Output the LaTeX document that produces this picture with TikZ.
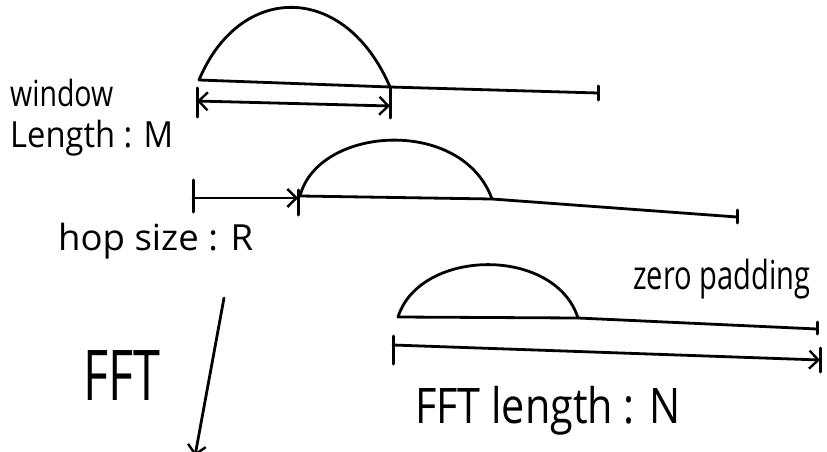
\documentclass[tikz,border=0pt]{standalone}
\usepackage{fontspec}
\setmainfont{Open Sans}
\usetikzlibrary{arrows.meta}
\newcommand\handtxt[3]{\resizebox{#1}{\height}{\fontsize{#2}{#2}\selectfont #3}}
\begin{document}
\begin{tikzpicture}[x=1pt,y=-1pt,
  pen/.style={line width=2.8pt, line cap=round, line join=round},
  tickmark/.style={line width=3pt, line cap=round},
  barb/.style={pen,-{Straight Barb[length=9pt,width=18pt,line width=2.4pt]}},
  dblbarb/.style={pen,{Straight Barb[length=9pt,width=18pt,line width=2.4pt]}-{Straight Barb[length=9pt,width=18pt,line width=2.4pt]}},
  lbl/.style={inner sep=0pt, anchor=base west}]
\useasboundingbox (0,0) rectangle (827,452);

% ---- first window ----
\coordinate (w1a) at (199,80);
\coordinate (w1b) at (390,87);
\coordinate (w1e) at (598,93);
\draw[pen] (w1a) .. controls (240,-18) and (345,-18) .. (w1b);
\draw[pen] (w1a) -- (w1b) -- (w1e);
\draw[tickmark] (598,86) -- (598,100);

% window length arrow
\coordinate (m1) at (197,101);
\coordinate (m2) at (390,106);
\draw[tickmark] (197,88) -- (197,117);
\draw[tickmark] (390,88) -- (390,118);
\draw[dblbarb] (m1) -- (m2);

\node[lbl] (twin) at (10,106) {\handtxt{103pt}{36}{window}};
\node[lbl] (tlen) at (10,147) {\handtxt{163pt}{36}{Length : M}};

% ---- second window ----
\coordinate (w2a) at (300,196);
\coordinate (w2b) at (492,199);
\coordinate (w2e) at (737,217);
\draw[pen] (w2a) .. controls (318,126) and (462,116) .. (w2b);
\draw[pen] (w2a) -- (w2b) -- (w2e);
\draw[tickmark] (737,210) -- (737,223);

% hop arrow
\coordinate (h1) at (193,198);
\coordinate (h2) at (298,198);
\draw[tickmark] (193,180) -- (193,212);
\draw[tickmark] (298,190) -- (298,215);
\draw[barb] (h1) -- (h2);

\node[lbl] (thop) at (58,250) {\handtxt{195pt}{36}{hop size : R}};

% ---- third window ----
\coordinate (w3a) at (398,317);
\coordinate (w3b) at (578,318);
\coordinate (w3e) at (817,329);
\draw[pen] (w3a) .. controls (420,248) and (555,246) .. (w3b);
\draw[pen] (w3a) -- (w3b) -- (w3e);
\draw[tickmark] (817,322) -- (817,334);

\node[lbl] (tzero) at (633,289) {\handtxt{177pt}{40}{zero padding}};

% FFT length arrow
\coordinate (n1) at (393,345);
\coordinate (n2) at (820,360);
\draw[tickmark] (393,336) -- (393,364);
\draw[tickmark] (820,348) -- (820,372);
\draw[barb] (n1) -- (n2);

\node[lbl] (tfftn) at (415,423) {\handtxt{265pt}{49}{FFT length : N}};

% ---- FFT arrow ----
\node[lbl] (tfft) at (83,400) {\handtxt{77pt}{70}{FFT}};
\coordinate (f1) at (224,298);
\coordinate (f2) at (195,456);
\draw[barb] (f1) -- (f2);
\end{tikzpicture}
\end{document}
